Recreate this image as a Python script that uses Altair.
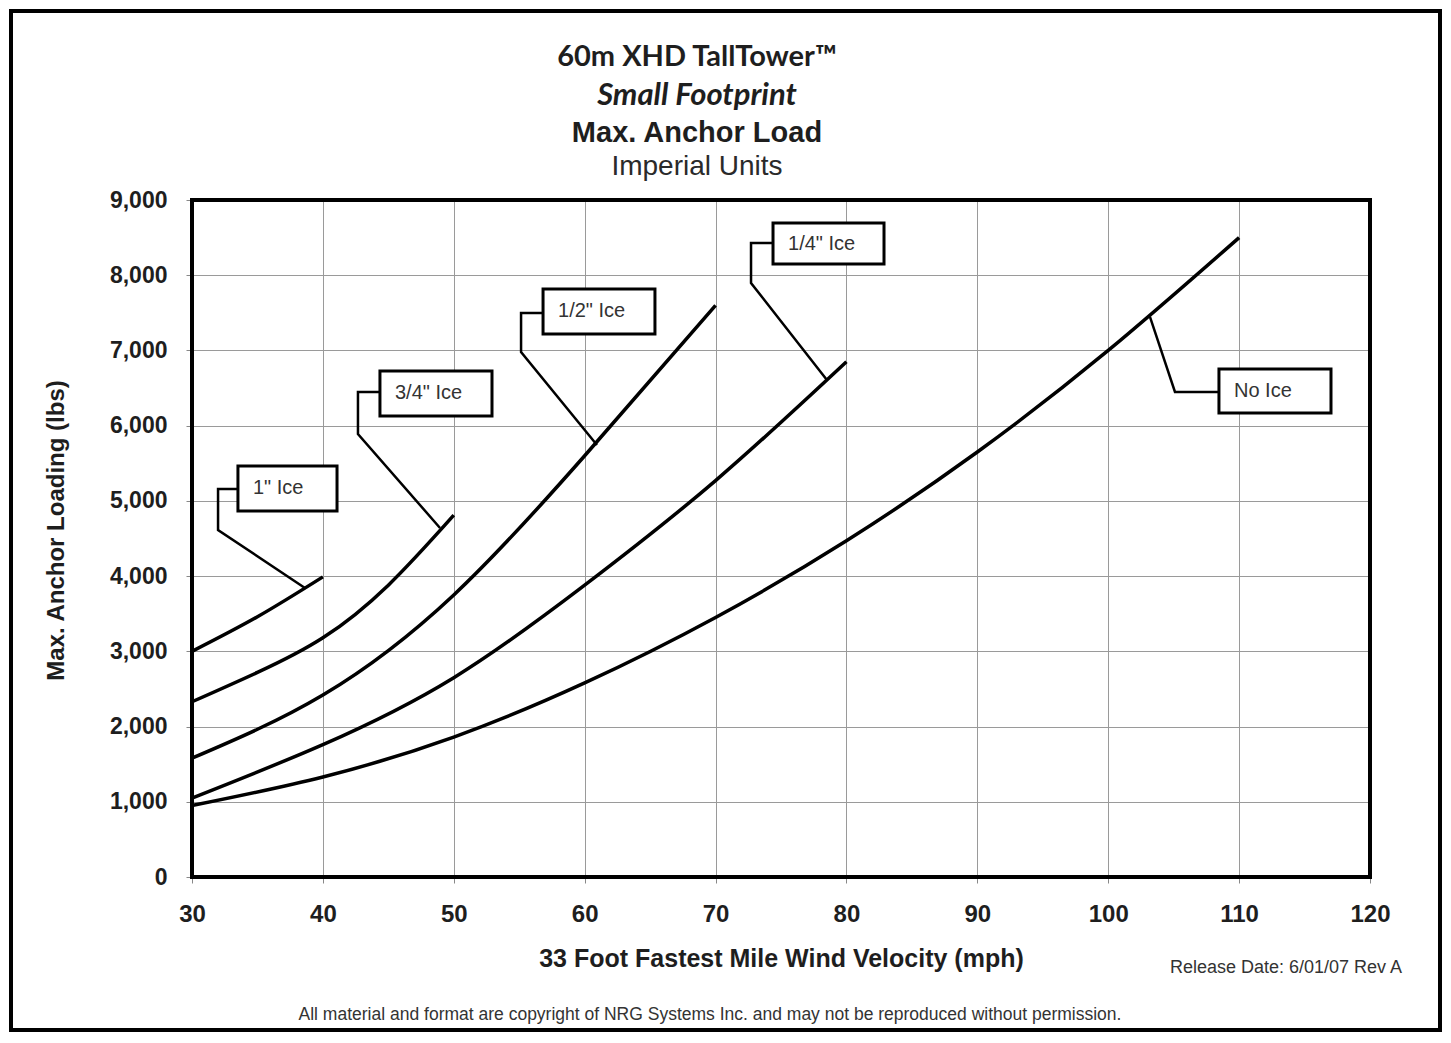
import altair as alt
import pandas as pd

# ---------------- data ----------------
wind_no_ice = [30, 40, 50, 60, 70, 80, 90, 100, 110]
load_no_ice = [950, 1330, 1860, 2580, 3450, 4470, 5650, 7000, 8500]

wind_quarter = [30, 40, 50, 60, 70, 80]
load_quarter = [1050, 1760, 2650, 3880, 5270, 6850]

wind_half = [30, 40, 50, 60, 70]
load_half = [1580, 2420, 3750, 5600, 7600]

wind_three_q = [30, 35, 40, 45, 50]
load_three_q = [2330, 2720, 3180, 3880, 4810]

wind_one = [30, 35, 40]
load_one = [3000, 3460, 3990]

series_names = ["No Ice", '1/4" Ice', '1/2" Ice', '3/4" Ice', '1" Ice']

# annotation boxes (data coordinates)
labels = ['1" Ice', '3/4" Ice', '1/2" Ice', '1/4" Ice', "No Ice"]
box_x1 = [33.51, 44.36, 56.82, 74.39, 108.46]
box_x2 = [41.08, 52.92, 65.37, 82.87, 117.02]
box_top = [5464, 6727, 7817, 8694, 6753]
box_bottom = [4866, 6129, 7219, 8149, 6168]
leader_x = [
    [38.63, 31.99, 31.99, 33.51],
    [48.95, 42.68, 42.68, 44.36],
    [60.94, 55.14, 55.14, 56.82],
    [78.51, 72.71, 72.71, 74.39],
    [103.19, 105.10, 108.46],
]
leader_y = [
    [3842, 4613, 5158, 5158],
    [4640, 5889, 6448, 6448],
    [5743, 6979, 7498, 7498],
    [6607, 7897, 8428, 8428],
    [7445, 6448, 6448],
]

x_ticks = [30, 40, 50, 60, 70, 80, 90, 100, 110, 120]
y_ticks = [0, 1000, 2000, 3000, 4000, 5000, 6000, 7000, 8000, 9000]

title_lines = ["60m XHD TallTower\u2122", "Small Footprint", "Max. Anchor Load", "Imperial Units"]
x_title = "33 Foot Fastest Mile Wind Velocity (mph)"
y_title = "Max. Anchor Loading (lbs)"
release_text = "Release Date: 6/01/07 Rev A"
copyright_text = "All material and format are copyright of NRG Systems Inc. and may not be reproduced without permission."

# ---------------- tables ----------------
rows = []
for name, ws, ls in zip(series_names,
                        [wind_no_ice, wind_quarter, wind_half, wind_three_q, wind_one],
                        [load_no_ice, load_quarter, load_half, load_three_q, load_one]):
    for i, (w, l) in enumerate(zip(ws, ls)):
        rows.append({"series": name, "wind": w, "load": l, "i": i})
curves_df = pd.DataFrame(rows)

boxes_df = pd.DataFrame({
    "label": labels, "x1": box_x1, "x2": box_x2, "top": box_top, "bottom": box_bottom,
    "ymid": [(a + b) / 2 for a, b in zip(box_top, box_bottom)],
})

lrows = []
for lab, xs, ys in zip(labels, leader_x, leader_y):
    for i, (xv, yv) in enumerate(zip(xs, ys)):
        lrows.append({"label": lab, "lx": xv, "ly": yv, "i": i})
leaders_df = pd.DataFrame(lrows)

one = pd.DataFrame({"a": [0]})

W, H = 1178, 677
AX_FONT = "Liberation Sans"

xscale = alt.Scale(domain=[30, 120], nice=False, zero=False)
yscale = alt.Scale(domain=[0, 9000], nice=False)

xaxis = alt.Axis(
    values=x_ticks, title=x_title, grid=True, gridColor="#9a9a9a", gridWidth=1,
    domain=False, tickSize=6, tickColor="#888", labelFont=AX_FONT, labelFontSize=24,
    labelFontWeight="bold", labelColor="#1e1e1e", labelPadding=19, labelFlush=False,
    labelExpr="format(datum.value, 'd')",
    titleFont=AX_FONT, titleFontSize=25, titleFontWeight="bold", titleColor="#1e1e1e",
    titleX=589, titleY=81, titleBaseline="middle", titleAlign="center")
yaxis = alt.Axis(
    values=y_ticks, title=y_title, grid=True, gridColor="#9a9a9a", gridWidth=1,
    domain=False, tickSize=6, tickColor="#888", labelFont=AX_FONT, labelFontSize=23,
    labelFontWeight="bold", labelColor="#1e1e1e", labelPadding=19, labelFlush=False,
    labelExpr="format(datum.value, ',')",
    titleFont=AX_FONT, titleFontSize=24, titleFontWeight="bold", titleColor="#1e1e1e",
    titleX=-136, titleY=330, titleAngle=270, titleBaseline="middle", titleAlign="center")

curves = alt.Chart(curves_df).mark_line(
    color="black", strokeWidth=3.5, interpolate="natural"
).encode(
    x=alt.X("wind:Q", scale=xscale, axis=xaxis),
    y=alt.Y("load:Q", scale=yscale, axis=yaxis),
    detail="series:N",
    order="i:Q",
)

leaders = alt.Chart(leaders_df).mark_line(color="black", strokeWidth=2.5).encode(
    x=alt.X("lx:Q", scale=xscale, axis=xaxis),
    y=alt.Y("ly:Q", scale=yscale, axis=yaxis),
    detail="label:N",
    order="i:Q",
)

boxes = alt.Chart(boxes_df).mark_rect(fill="white", stroke="black", strokeWidth=3).encode(
    x=alt.X("x1:Q", scale=xscale, axis=xaxis),
    x2="x2:Q",
    y=alt.Y("top:Q", scale=yscale, axis=yaxis),
    y2="bottom:Q",
)

box_text = alt.Chart(boxes_df).mark_text(
    align="left", baseline="middle", dx=15, font=AX_FONT, fontSize=20, color="#333"
).encode(
    x=alt.X("x1:Q", scale=xscale, axis=xaxis),
    y=alt.Y("ymid:Q", scale=yscale, axis=yaxis),
    text="label:N",
)

border = alt.Chart(one).mark_rect(filled=False, stroke="black", strokeWidth=4).encode(
    x=alt.value(0), x2=alt.value(W), y=alt.value(0), y2=alt.value(H)
)

frame = alt.Chart(one).mark_rect(filled=False, stroke="black", strokeWidth=4).encode(
    x=alt.value(-181), x2=alt.value(1248), y=alt.value(-189), y2=alt.value(830)
)

def text_layer(txt, x, y, **kw):
    return alt.Chart(one).mark_text(text=txt, **kw).encode(x=alt.value(x), y=alt.value(y))

t1 = text_layer(title_lines[0], 505, -134, font="Lato", fontSize=29, fontWeight="bold",
                color="#1e1e1e", align="center", baseline="alphabetic")
t2 = text_layer(title_lines[1], 505, -95, font="Lato", fontSize=31, fontWeight="bold",
                fontStyle="italic", color="#1e1e1e", align="center", baseline="alphabetic")
t3 = text_layer(title_lines[2], 505, -58, font=AX_FONT, fontSize=29, fontWeight="bold",
                color="#1e1e1e", align="center", baseline="alphabetic")
t4 = text_layer(title_lines[3], 505, -25, font=AX_FONT, fontSize=28, fontWeight="normal",
                color="#2a2a2a", align="center", baseline="alphabetic")
rel = text_layer(release_text, 1094, 768, font=AX_FONT, fontSize=18, color="#333",
                 align="center", baseline="middle")
cop = text_layer(copyright_text, 518, 815, font=AX_FONT, fontSize=17.5, color="#333",
                 align="center", baseline="middle")

chart = alt.layer(
    curves, leaders, boxes, box_text, border, frame, t1, t2, t3, t4, rel, cop
).properties(
    width=W, height=H,
    padding={"left": 184, "top": 192, "right": 72, "bottom": 155},
    autosize=alt.AutoSizeParams(type="none"),
).configure(background="white").configure_view(stroke=None)

chart.save("out.html", embed_options={"renderer": "svg", "actions": False})
